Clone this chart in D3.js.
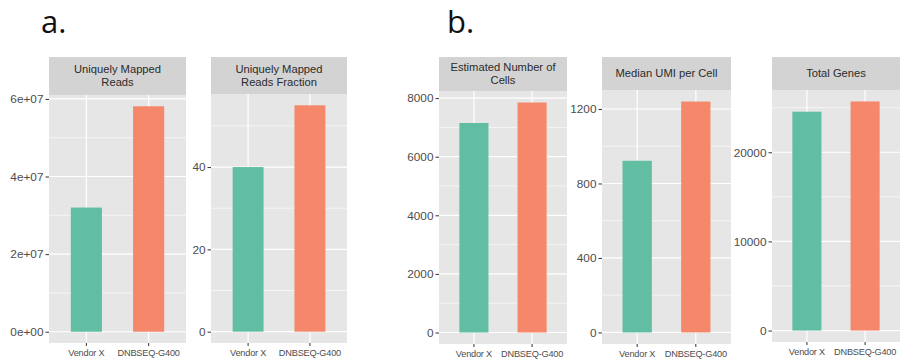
<!DOCTYPE html>
<html>
<head>
<meta charset="utf-8">
<script src="https://cdn.jsdelivr.net/npm/d3@7"></script>
<style>
  html, body { margin: 0; padding: 0; background: #ffffff; }
  svg { display: block; }
</style>
</head>
<body>
<svg id="chart" width="904" height="359"></svg>
<script>
// ---------------- DATA ----------------
const categories = ["Vendor X", "DNBSEQ-G400"];

const panelTitles = [
  ["Uniquely Mapped", "Reads"],
  ["Uniquely Mapped", "Reads Fraction"],
  ["Estimated Number of", "Cells"],
  ["Median UMI per Cell"],
  ["Total Genes"]
];

const uniquelyMappedReads   = [32000000, 58100000];
const uniquelyMappedFraction = [40, 55];
const estimatedCells        = [7150, 7850];
const medianUMI             = [922, 1240];
const totalGenes            = [24550, 25700];

const ticksReads    = [0, 20000000, 40000000, 60000000];
const tickLabelsReads = ["0e+00", "2e+07", "4e+07", "6e+07"];
const ticksFraction = [0, 20, 40];
const ticksCells    = [0, 2000, 4000, 6000, 8000];
const ticksUMI      = [0, 400, 800, 1200];
const ticksGenes    = [0, 10000, 20000];

const minorReads    = [10000000, 30000000, 50000000];
const minorFraction = [10, 30, 50];
const minorCells    = [1000, 3000, 5000, 7000];
const minorUMI      = [200, 600, 1000];
const minorGenes    = [5000, 15000, 25000];

const seriesValues = [uniquelyMappedReads, uniquelyMappedFraction, estimatedCells, medianUMI, totalGenes];
const seriesTicks  = [ticksReads, ticksFraction, ticksCells, ticksUMI, ticksGenes];
const seriesMinor  = [minorReads, minorFraction, minorCells, minorUMI, minorGenes];
const seriesTickLabels = [tickLabelsReads, null, null, null, null];

// ---------------- LAYOUT / STYLE ----------------
const layout = [
  { x0: 49,  x1: 186, hTop: 57, hBot: 95, yBot: 343 },
  { x0: 211, x1: 347, hTop: 57, hBot: 94, yBot: 343 },
  { x0: 439, x1: 567, hTop: 57, hBot: 91, yBot: 344 },
  { x0: 602, x1: 731, hTop: 57, hBot: 90, yBot: 344 },
  { x0: 772, x1: 900, hTop: 57, hBot: 90, yBot: 342 }
];
const barColors = ["#62bea2", "#f5886a"];
const panelBg = "#e6e6e6";
const stripBg = "#d3d3d3";
const textDark = "#2b2b2b";
const tickCol = "#4d4d4d";

const svg = d3.select("#chart");

// panel letters
svg.append("text").attr("x", 41).attr("y", 33)
  .attr("font-family", "'Open Sans', 'Noto Sans', sans-serif").attr("font-size", 31)
  .attr("fill", "#111").text("a.");
svg.append("text").attr("x", 447).attr("y", 33)
  .attr("font-family", "'Open Sans', 'Noto Sans', sans-serif").attr("font-size", 31)
  .attr("fill", "#111").text("b.");

layout.forEach((L, i) => {
  const vals = seriesValues[i];
  const maxV = d3.max(vals);
  const g = svg.append("g");

  const y = d3.scaleLinear()
    .domain([-0.05 * maxV, 1.05 * maxV])
    .range([L.yBot, L.hBot]);

  const x = d3.scaleBand()
    .domain(categories)
    .range([L.x0, L.x1])
    .paddingInner(0.5)
    .paddingOuter(0.35);

  // strip
  g.append("rect").attr("x", L.x0).attr("y", L.hTop)
    .attr("width", L.x1 - L.x0).attr("height", L.hBot - L.hTop)
    .attr("fill", stripBg);
  const lines = panelTitles[i];
  const cy = (L.hTop + L.hBot) / 2;
  const lh = 13;
  lines.forEach((t, k) => {
    g.append("text")
      .attr("x", (L.x0 + L.x1) / 2)
      .attr("y", cy + (k - (lines.length - 1) / 2) * lh)
      .attr("dy", "0.35em")
      .attr("text-anchor", "middle")
      .attr("font-family", "'Liberation Sans', Arial, sans-serif")
      .attr("font-size", 11.2)
      .attr("fill", textDark)
      .text(t);
  });

  // panel background
  g.append("rect").attr("x", L.x0).attr("y", L.hBot)
    .attr("width", L.x1 - L.x0).attr("height", L.yBot - L.hBot)
    .attr("fill", panelBg);

  // minor grid
  g.selectAll(".minor").data(seriesMinor[i].filter(v => v <= y.domain()[1])).join("line")
    .attr("x1", L.x0).attr("x2", L.x1)
    .attr("y1", d => y(d)).attr("y2", d => y(d))
    .attr("stroke", "#ffffff").attr("stroke-width", 0.6);

  // major grid
  g.selectAll(".major").data(seriesTicks[i]).join("line")
    .attr("x1", L.x0).attr("x2", L.x1)
    .attr("y1", d => y(d)).attr("y2", d => y(d))
    .attr("stroke", "#ffffff").attr("stroke-width", 1.2);

  g.selectAll(".vgrid").data(categories).join("line")
    .attr("x1", d => x(d) + x.bandwidth() / 2).attr("x2", d => x(d) + x.bandwidth() / 2)
    .attr("y1", L.hBot).attr("y2", L.yBot)
    .attr("stroke", "#ffffff").attr("stroke-width", 1.2);

  // bars
  g.selectAll(".bar").data(categories).join("rect")
    .attr("x", d => x(d))
    .attr("width", x.bandwidth())
    .attr("y", (d, j) => y(vals[j]))
    .attr("height", (d, j) => y(0) - y(vals[j]))
    .attr("fill", (d, j) => barColors[j]);

  // y axis
  const labels = seriesTickLabels[i];
  const yAxis = d3.axisLeft(y)
    .tickValues(seriesTicks[i])
    .tickSize(3.5)
    .tickPadding(2)
    .tickFormat((d, k) => labels ? labels[k] : String(d));
  const ya = g.append("g").attr("transform", `translate(${L.x0},0)`).call(yAxis);
  ya.select(".domain").remove();
  ya.selectAll("line").attr("stroke", "#333").attr("stroke-width", 1);
  ya.selectAll("text")
    .attr("font-family", "'Liberation Sans', Arial, sans-serif")
    .attr("font-size", 11.8)
    .attr("fill", tickCol);

  // x axis
  const xAxis = d3.axisBottom(x).tickSize(3).tickPadding(3);
  const xa = g.append("g").attr("transform", `translate(0,${L.yBot})`).call(xAxis);
  xa.select(".domain").remove();
  xa.selectAll("line").attr("stroke", "#333").attr("stroke-width", 1);
  xa.selectAll("text")
    .attr("font-family", "'Liberation Sans', Arial, sans-serif")
    .attr("font-size", 9.2)
    .attr("letter-spacing", "-0.2px")
    .attr("fill", tickCol);
});
</script>
</body>
</html>
